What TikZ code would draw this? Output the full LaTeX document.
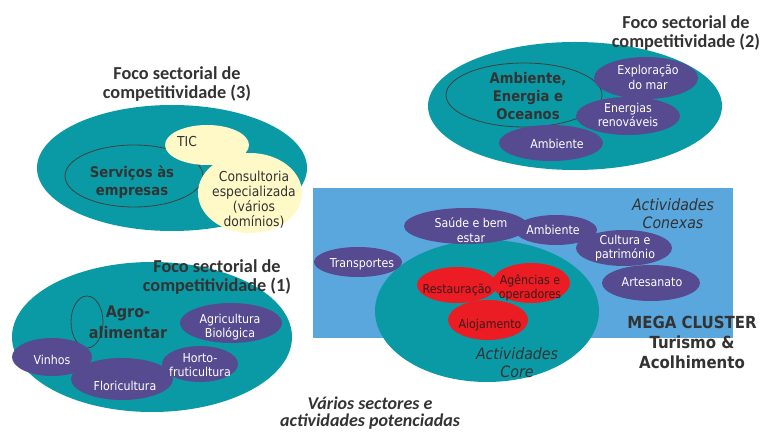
\documentclass[tikz,border=0pt]{standalone}
\usepackage{fontspec}
\setmainfont{Carlito}
\newfontfamily\cfont{DejaVu Sans Condensed}
\usetikzlibrary{shapes.geometric}
\definecolor{tealc}{HTML}{0A9AA6}
\definecolor{purc}{HTML}{564A90}
\definecolor{yelc}{HTML}{FFF9C8}
\definecolor{redc}{HTML}{EC1C24}
\definecolor{bluec}{HTML}{5AA7DE}
\definecolor{txtc}{HTML}{333333}
\definecolor{redtxt}{HTML}{3A1A1A}
\begin{document}
\begin{tikzpicture}[x=0.75pt,y=-0.75pt,
  sz/.style 2 args={ellipse, inner sep=0pt, minimum width=#1*1.5pt, minimum height=#2*1.5pt},
  tealel/.style={fill=tealc, draw=none},
  pur/.style={fill=purc, draw=none},
  yel/.style={fill=yelc, draw=none},
  redel/.style={fill=redc, draw=none},
  outl/.style={draw=black!75, line width=0.6pt},
  wt/.style={text=white, font=\cfont\fontsize{9.2}{11}\selectfont, align=center, inner sep=0pt},
  dt/.style={text=txtc, font=\cfont\fontsize{10.3}{11.3}\selectfont, align=center, inner sep=0pt},
  rt/.style={text=redtxt, font=\cfont\fontsize{9.2}{10.5}\selectfont, align=center, inner sep=0pt},
  bigb/.style={text=txtc, font=\cfont\bfseries\fontsize{11}{13.5}\selectfont, align=center, inner sep=0pt},
  title/.style={text=txtc, font=\bfseries\fontsize{13.7}{13.8}\selectfont, align=center, inner sep=0pt},
  itl/.style={text=txtc, font=\cfont\itshape\fontsize{11.8}{13.5}\selectfont, align=center, inner sep=0pt},
]
\useasboundingbox (0,0) rectangle (763,434);
\fill[white] (0,0) rectangle (763,434);

% ---------- Cluster 3 ----------
\node[tealel, sz={135}{63}] (c3) at (172,168) {};
\node[outl, sz={69}{31}] (c3o) at (134,176) {};
\node[yel, sz={42}{20}] (tic) at (207,145) {};
\node[yel, sz={52}{40}] (cons) at (250,193) {};
\node[bigb] (c3ot) at (132,182) {Serviços às\\empresas};
\node[dt] (tict) at (187,142) {TIC};
\node[dt] (const) at (254,200) {Consultoria\\especializada\\(vários\\domínios)};
\node[title] (t3) at (177,84) {Foco sectorial de\\competitividade (3)};

% ---------- Cluster 2 ----------
\node[tealel, sz={147}{64}] (c2) at (575,106) {};
\node[outl, sz={78}{32}] (c2o) at (524,95) {};
\node[pur, sz={52}{18}] (amb2) at (551,143) {};
\node[pur, sz={52}{21}] (expl) at (646,78) {};
\node[pur, sz={52}{19}] (ener) at (628,116) {};
\node[bigb] (c2ot) at (528,96) {Ambiente,\\Energia e\\Oceanos};
\node[wt] (explt) at (648,77) {Exploração\\do mar};
\node[wt] (enert) at (628,115) {Energias\\renováveis};
\node[wt] (amb2t) at (557,144) {Ambiente};
\node[title] (t2) at (686,33) {Foco sectorial de\\competitividade (2)};

% ---------- Cluster 1 ----------
\node[tealel, sz={140}{75}] (c1) at (152,337) {};
\node[outl, sz={16}{26}] (c1o) at (87,322) {};
\node[pur, sz={51}{20}] (agri) at (231,323) {};
\node[pur, sz={40}{19}] (vin) at (52,357) {};
\node[pur, sz={51}{21}] (flor) at (122,379) {};
\node[pur, sz={38}{18}] (hort) at (200,364) {};
\node[bigb, font=\cfont\bfseries\fontsize{12}{16}\selectfont] (c1t) at (128,322) {Agro-\\alimentar};
\node[wt] (agrit) at (230,327) {Agricultura\\Biológica};
\node[wt] (vint) at (52,360) {Vinhos};
\node[wt] (flort) at (125,386) {Floricultura};
\node[wt] (hortt) at (200,365) {Horto-\\fruticultura};
\node[title] (t1) at (217,277) {Foco sectorial de\\competitividade (1)};

% ---------- Mega cluster ----------
\node[fill=bluec, draw=none, inner sep=0pt, minimum width=420*0.75pt, minimum height=150*0.75pt] (mega) at (523,263) {};
\node[tealel, sz={112}{71}] (core) at (487,311) {};
\node[pur, sz={62}{18}] (saude) at (466,226) {};
\node[pur, sz={41}{15}] (amb3) at (556,230) {};
\node[pur, sz={48}{18}] (cult) at (624,248) {};
\node[pur, sz={44}{15}] (transp) at (358,262) {};
\node[pur, sz={49}{18}] (artes) at (651,283) {};
\node[redel, sz={40}{18}] (rest) at (457,285) {};
\node[redel, sz={39}{20}] (agen) at (531,283) {};
\node[redel, sz={40}{20}] (aloj) at (488,320) {};
\node[wt] (saudet) at (471,230) {Saúde e bem\\estar};
\node[wt] (amb3t) at (553,230) {Ambiente};
\node[wt] (cultt) at (625,248) {Cultura e\\património};
\node[wt] (transpt) at (362,264) {Transportes};
\node[wt] (artest) at (652,282) {Artesanato};
\node[rt] (restt) at (457,290) {Restauração};
\node[rt] (agent) at (530,288) {Agências e\\operadores};
\node[rt] (alojt) at (490,325) {Alojamento};
\node[itl] (conex) at (673,214) {Actividades\\Conexas};
\node[itl] (coret) at (517,363) {Actividades\\Core};
\node[text=txtc, font=\cfont\bfseries\fontsize{12.5}{15}\selectfont, align=center, inner sep=0pt] (megat) at (692,342) {MEGA CLUSTER\\Turismo \&\\Acolhimento};

% ---------- Bottom text ----------
\node[text=txtc, font=\bfseries\itshape\fontsize{13.5}{13.2}\selectfont, align=center, inner sep=0pt] (bott) at (370,413) {Vários sectores e\\actividades potenciadas};
\end{tikzpicture}
\end{document}
